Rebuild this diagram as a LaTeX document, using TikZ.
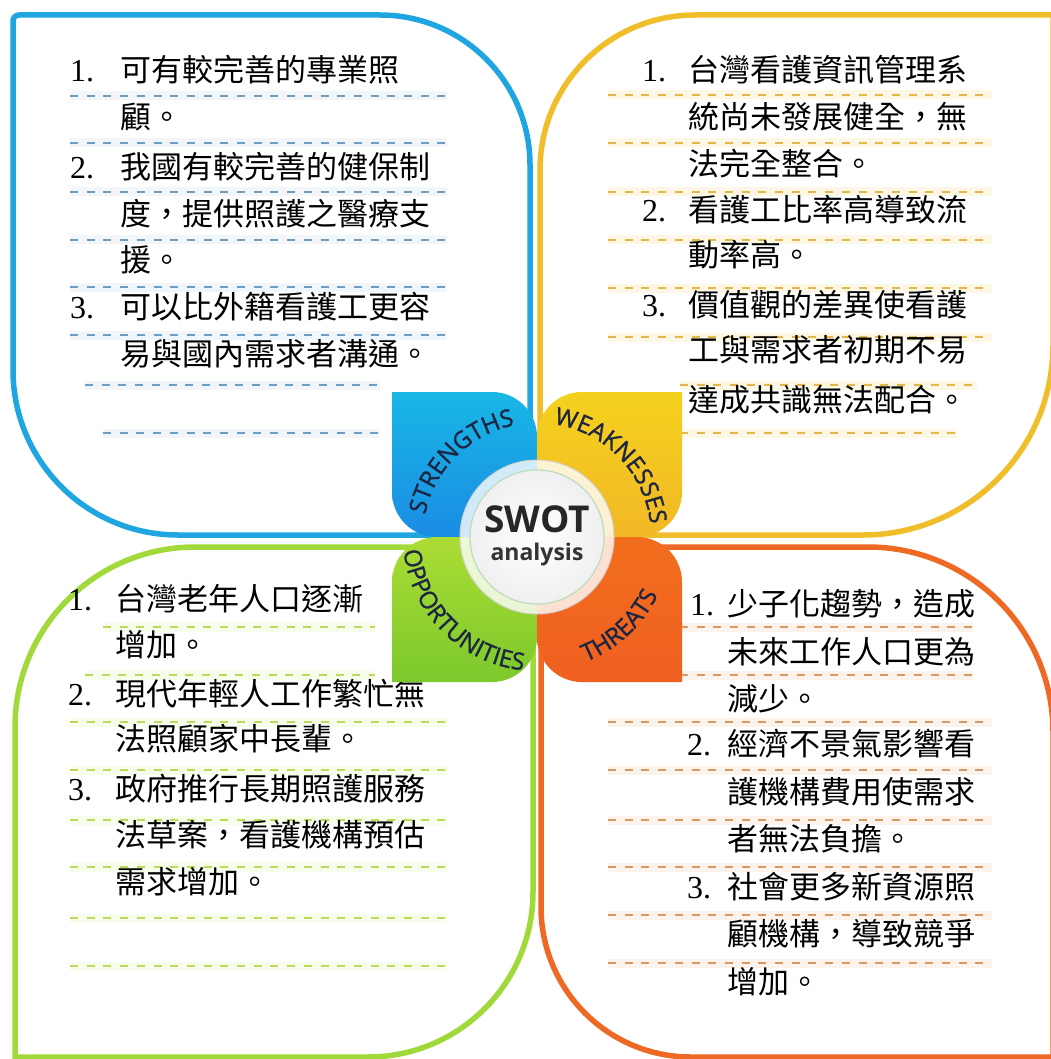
\documentclass[tikz,border=0pt]{standalone}
\usepackage{fontspec}
\usetikzlibrary{decorations.text}
\newfontfamily\cjkfont{Noto Sans CJK TC}
\newfontfamily\numfont{Liberation Serif}
\newfontfamily\swotfont{Open Sans}
\newfontfamily\lblfam{Open Sans}[FakeBold=1.2]
\newcommand\lblfont{\lblfam\fontsize{24}{24}\selectfont}
\definecolor{sblue}{HTML}{1FA5DF}
\definecolor{wyellow}{HTML}{F0BE2A}
\definecolor{ogreen}{HTML}{A2D93A}
\definecolor{torange}{HTML}{EE6A24}
\definecolor{sdash}{HTML}{6F9DBF}
\definecolor{sglow}{HTML}{E6F0F7}
\definecolor{wdash}{HTML}{E0B94A}
\definecolor{wglow}{HTML}{FCF4D6}
\definecolor{odash}{HTML}{BBDB5A}
\definecolor{oglow}{HTML}{F3FADF}
\definecolor{tdash}{HTML}{D49A66}
\definecolor{tglow}{HTML}{FAEDE0}
\definecolor{navy}{HTML}{1C2541}
\tikzset{
  quadframe/.style={line width=5.5pt, line cap=round},
  linetext/.style={anchor=west, inner sep=0pt, text height=0.88em, text depth=0.12em,
    font=\cjkfont\fontsize{31}{31}\selectfont},
  numtext/.style={anchor=west, inner sep=0pt, text height=0.88em, text depth=0.12em,
    font=\numfont\fontsize{32}{32}\selectfont},
  ruled/.style={line width=2.6pt, dash pattern=on 8pt off 8.7pt},
  glow/.style={line width=9pt, opacity=0.6},
  petallabel/.style={decorate, decoration={text along path, text align=center,
    text color=navy, text={|\lblfont|#1}}}
}
\begin{document}
\begin{tikzpicture}[x=1pt, y=-1pt]
  \useasboundingbox (0,0) rectangle (1050,1059);
  \fill[white] (0,0) rectangle (1050,1059);
  \coordinate (ctr) at (537,537);

  % Four rounded frames
  \draw[quadframe, sblue] (530,480) -- (530,165) arc[start angle=0, end angle=-90, radius=150]
    -- (19,15) arc[start angle=-90, end angle=-180, radius=6]
    -- (13,370) arc[start angle=180, end angle=90, radius=165] -- (475,535);
  \draw[quadframe, wyellow] (540,480) -- (540,170) arc[start angle=180, end angle=270, radius=155]
    -- (1053,15) -- (1053,345) arc[start angle=0, end angle=90, radius=190] -- (600,535);
  \draw[quadframe, ogreen] (470,547) -- (195,547) arc[start angle=270, end angle=180, radius=180]
    -- (15,1057) -- (368,1057) arc[start angle=90, end angle=0, radius=165] -- (533,600);
  \draw[quadframe, torange] (600,547) -- (868,547) arc[start angle=270, end angle=360, radius=185]
    -- (1053,1057) -- (691,1057) arc[start angle=90, end angle=180, radius=150] -- (541,600);

  % Ruled lines
  \foreach \y in {96,143,192,240,287,335} {
    \draw[glow, sglow] (70,\y) -- (447,\y);
    \draw[ruled, sdash] (70,\y) -- (447,\y);
  }
  \foreach \y/\a in {385/85,433/103} {
    \draw[glow, sglow] (\a,\y) -- (380,\y);
    \draw[ruled, sdash] (\a,\y) -- (380,\y);
  }
  \foreach \y in {95,143,192,240,288,337} {
    \draw[glow, wglow] (608,\y) -- (992,\y);
    \draw[ruled, wdash] (608,\y) -- (992,\y);
  }
  \foreach \y/\b in {385/977,433/957} {
    \draw[glow, wglow] (680,\y) -- (\b,\y);
    \draw[ruled, wdash] (680,\y) -- (\b,\y);
  }
  \foreach \y/\a in {627/103,675/85} {
    \draw[glow, oglow] (\a,\y) -- (375,\y);
    \draw[ruled, odash] (\a,\y) -- (375,\y);
  }
  \foreach \y in {722,770,820,867,918,966} {
    \draw[glow, oglow] (70,\y) -- (447,\y);
    \draw[ruled, odash] (70,\y) -- (447,\y);
  }
  \foreach \y in {627,675} {
    \draw[glow, tglow] (680,\y) -- (973,\y);
    \draw[ruled, tdash] (680,\y) -- (973,\y);
  }
  \foreach \y in {722,770,820,867,915,963} {
    \draw[glow, tglow] (608,\y) -- (992,\y);
    \draw[ruled, tdash] (608,\y) -- (992,\y);
  }

  % Strengths text
  \foreach \y/\t [count=\i] in {78/可有較完善的專業照, 125/顧。, 175/我國有較完善的健保制,
      222/度，提供照護之醫療支, 268/援。, 315/可以比外籍看護工更容, 362/易與國內需求者溝通。}
    \node[linetext] (s\i) at (120,\y) {\t};
  \foreach \y/\n [count=\i] in {78/1., 175/2., 315/3.}
    \node[numtext] (sn\i) at (70,\y) {\n};

  % Weaknesses text
  \foreach \y/\t [count=\i] in {78/台灣看護資訊管理系, 125/統尚未發展健全，無, 172/法完全整合。,
      218/看護工比率高導致流, 263/動率高。, 313/價值觀的差異使看護, 358/工與需求者初期不易,
      408/達成共識無法配合。}
    \node[linetext] (w\i) at (688,\y) {\t};
  \foreach \y/\n [count=\i] in {78/1., 218/2., 313/3.}
    \node[numtext] (wn\i) at (642,\y) {\n};

  % Opportunities text
  \foreach \y/\t [count=\i] in {607/台灣老年人口逐漸, 653/增加。, 702/現代年輕人工作繁忙無,
      747/法照顧家中長輩。, 797/政府推行長期照護服務, 843/法草案，看護機構預估, 890/需求增加。}
    \node[linetext] (o\i) at (115,\y) {\t};
  \foreach \y/\n [count=\i] in {607/1., 702/2., 797/3.}
    \node[numtext] (on\i) at (68,\y) {\n};

  % Threats text
  \foreach \y/\t [count=\i] in {612/少子化趨勢，造成, 660/未來工作人口更為, 707/減少。,
      752/經濟不景氣影響看, 800/護機構費用使需求, 847/者無法負擔。, 895/社會更多新資源照,
      942/顧機構，導致競爭, 990/增加。}
    \node[linetext] (t\i) at (727,\y) {\t};
  \foreach \y/\x/\n [count=\i] in {612/690/1., 752/687/2., 895/687/3.}
    \node[numtext] (tn\i) at (\x,\y) {\n};

  % Petals
  \shade[top color=sblue!80!cyan, bottom color=sblue!85!blue]
    (392,392) -- (492,392) arc[start angle=-90, end angle=0, radius=45]
    -- (537,537) -- (437,537) arc[start angle=90, end angle=180, radius=45] -- cycle;
  \shade[top color=wyellow!70!yellow, bottom color=wyellow!90!orange]
    (537,537) -- (537,437) arc[start angle=180, end angle=270, radius=45]
    -- (682,392) -- (682,492) arc[start angle=0, end angle=90, radius=45] -- cycle;
  \shade[top color=ogreen!90!yellow, bottom color=ogreen!85!green!90!black]
    (537,537) -- (437,537) arc[start angle=270, end angle=180, radius=45]
    -- (392,682) -- (492,682) arc[start angle=90, end angle=0, radius=45] -- cycle;
  \shade[top color=torange!80!orange, bottom color=torange!90!red]
    (537,537) -- (637,537) arc[start angle=270, end angle=360, radius=45]
    -- (682,682) -- (582,682) arc[start angle=90, end angle=180, radius=45] -- cycle;

  % Centre disc
  \fill[white, opacity=0.8] (ctr) circle (77);
  \draw[gray!35, line width=1pt] (ctr) circle (77);
  \shade[inner color=white, outer color=gray!12] (ctr) circle (67);
  \draw[green!30!gray!40, line width=1.2pt] (ctr) circle (67);
  \node[font=\swotfont\bfseries\fontsize{37}{37}\selectfont, text=black!85, inner sep=0pt]
    (swot) at (537,519) {SWOT};
  \node[font=\swotfont\bfseries\fontsize{23}{23}\selectfont, text=black!80, inner sep=0pt]
    (analysis) at (537,555) {analysis};

  % Curved petal labels
  \begin{scope}[y=1pt]
    \path[petallabel=STRENGTHS] ([shift={(176:114)}]ctr) arc[start angle=176, end angle=94, radius=114];
    \path[petallabel=WEAKNESSES] ([shift={(90:114)}]ctr) arc[start angle=90, end angle=-2, radius=114];
    \path[petallabel=OPPORTUNITIES] ([shift={(178:134)}]ctr) arc[start angle=178, end angle=272, radius=134];
    \path[petallabel=THREATS] ([shift={(278:134)}]ctr) arc[start angle=278, end angle=348, radius=134];
  \end{scope}
\end{tikzpicture}
\end{document}
